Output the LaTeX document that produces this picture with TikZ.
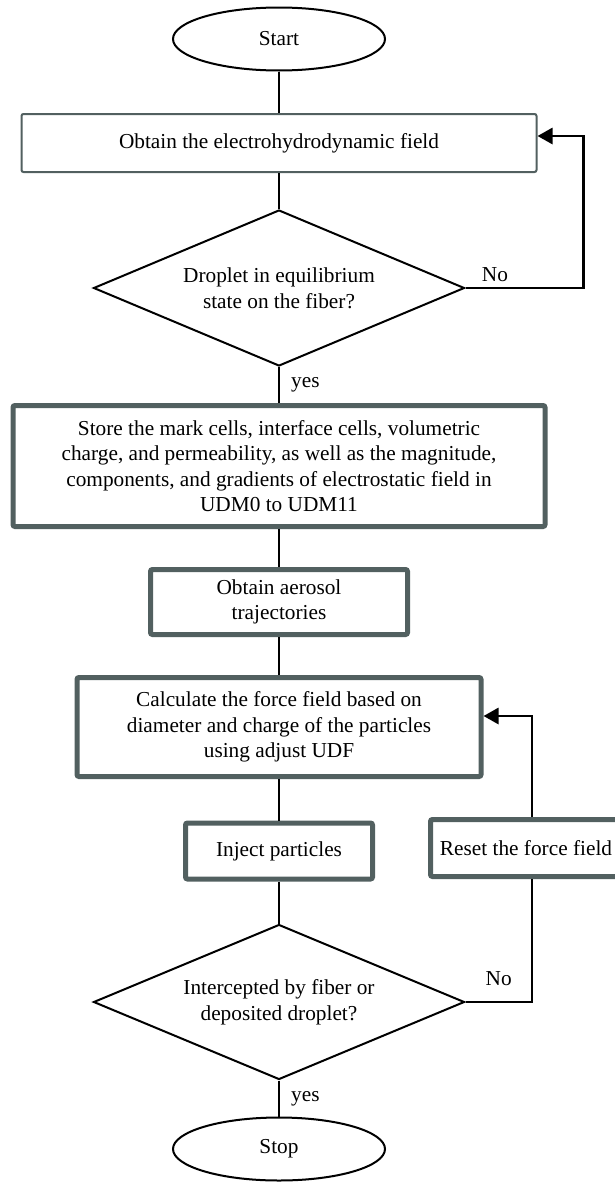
\documentclass[tikz,border=0pt]{standalone}
\usepackage{fontspec}
\setmainfont{Liberation Serif}
\usetikzlibrary{shapes.geometric,arrows.meta}
\definecolor{boxline}{RGB}{82,96,96}
\begin{document}
\begin{tikzpicture}[x=1pt, y=-1pt,
	font=\fontsize{21.3}{25.6}\selectfont,
	terminal/.style={ellipse, draw=black, line width=2pt,
		minimum width=212pt, minimum height=63pt, inner sep=0pt},
	main/.style={rectangle, draw=boxline, line width=5pt,
		rounded corners=2pt, align=center, inner sep=0pt},
	decision/.style={diamond, aspect=2.4, draw=black, line width=2pt,
		align=center, inner sep=0pt, minimum width=371pt, minimum height=156pt},
	link/.style={line width=1.7pt},
	back/.style={line width=2.8pt, -{Triangle[length=15pt,width=16pt]}}]
	\useasboundingbox (0,0) rectangle (614,1186);
	\node[terminal] (0) at (279,39) {Start};
	\node[main, line width=2pt, minimum width=515pt, minimum height=58pt] (1) at (279,143) {Obtain the electrohydrodynamic field};
	\node[decision] (2) at (279,288) {Droplet in equilibrium\\state on the fiber?};
	\node[main, minimum width=532pt, minimum height=121pt] (3) at (279,466) {Store the mark cells, interface cells, volumetric\\charge, and permeability, as well as the magnitude,\\components, and gradients of electrostatic field in\\UDM0 to UDM11};
	\node[main, minimum width=257pt, minimum height=65pt] (4) at (279,602) {Obtain aerosol\\trajectories};
	\node[main, minimum width=404pt, minimum height=99pt] (5) at (279,727) {Calculate the force field based on\\diameter and charge of the particles\\using adjust UDF};
	\node[main, minimum width=187pt, minimum height=56pt] (6) at (279,851) {Inject particles};
	\node[main, minimum width=203pt, minimum height=57pt] (7) at (532,848) {Reset the force field\hspace*{12pt}};
	\node[decision, minimum height=155pt] (8) at (279,1002) {Intercepted by fiber or\\deposited droplet?};
	\node[terminal] (9) at (279,1149) {Stop};
	\draw[link]
		(0) edge (1)
		(1) edge (2)
		(2) edge node[right=8pt] {yes} (3)
		(3) edge (4)
		(4) edge (5)
		(5) edge (6)
		(6) edge (8)
		(8) edge node[right=8pt] {yes} (9);
	\draw[back] (2.east) -- node[above=2pt, pos=0.25] {No} ++(118,0) |- ([yshift=7pt]1.east);
	\draw[back, -] (8.east) -| node[above=12pt, pos=0.25] {No} (7.south);
	\draw[back] (7.north) |- ([yshift=11pt]5.east);
\end{tikzpicture}
\end{document}
